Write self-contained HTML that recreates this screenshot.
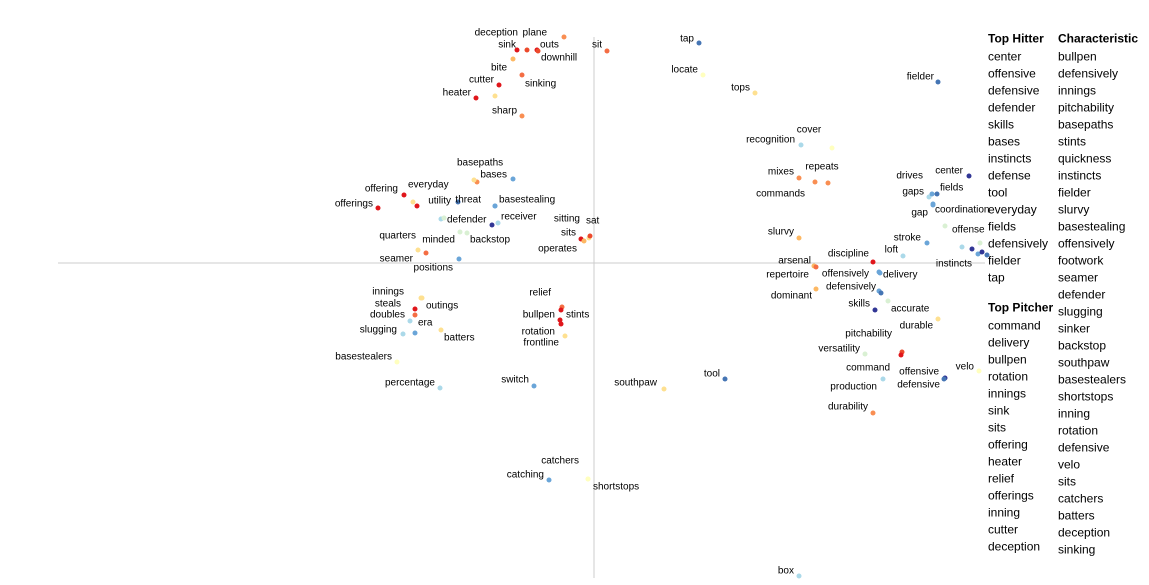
<!DOCTYPE html>
<html><head><meta charset="utf-8"><style>
html,body{margin:0;padding:0;background:#fff;}
svg{display:block;font-family:"Liberation Sans",Arial,sans-serif;}
.lbl{font-size:10px;fill:#000;}
.leg{font-size:12px;fill:#000;}
.legh{font-size:12px;font-weight:bold;fill:#000;}
</style></head><body>
<svg id="chart" width="1149" height="585" viewBox="0 0 1149 585">
<line x1="594" y1="37" x2="594" y2="578" stroke="#ddd" stroke-width="1.5"/>
<line x1="58" y1="263" x2="985" y2="263" stroke="#ccc" stroke-width="1"/>
<g id="points"></g>
<g id="legend"></g>
</svg>
<script>
// terms, x-score, y-score, color category
const terms = ["sink","deception","outs","downhill","plane","bite","sinking","cutter","heater","","sharp","sit","tap","locate","tops","fielder",
"bases","basepaths","","everyday","offering","offerings","","utility","threat","basestealing","","defender","receiver","","minded","backstop","quarters","seamer","positions","sits","operates","sitting","sat",
"cover","recognition","mixes","repeats","commands","slurvy","discipline","arsenal","repertoire","offensively","delivery","loft","stroke","defensively","","dominant","skills","accurate","durable","pitchability","command","versatility","production","offensive","defensive","velo","durability","tool","southpaw","box",
"center","drives","gaps","fields","gap","coordination","offense","","","","instincts","","",
"innings","outings","steals","doubles","era","slugging","batters","","basestealers","percentage",
"relief","bullpen","stints","rotation","frontline","switch","catching","catchers","shortstops"];
const xScores = [-77,-67,-57,-56,-30,-81,-72,-95,-118,-99,-72,13,105,109,161,344,
-81,-117,-120,-181,-190,-216,-177,-136,-99,-99,-153,-150,-96,-102,-134,-127,-176,-168,-135,-13,-10,-5,-4,
238,207,205,221,234,205,279,220,222,285,286,309,333,285,287,222,281,294,344,308,307,271,289,351,350,385,279,131,70,205,
375,335,338,343,339,339,351,368,386,378,384,388,393,
-173,-172,-179,-179,-184,-191,-153,-179,-197,-154,
-32,-33,-34,-33,-29,-60,-45,-6,-6];
const yScores = [213,213,213,212,226,204,188,178,165,167,147,212,220,188,170,181,
84,81,83,61,68,55,57,61,57,57,44,45,40,38,31,30,13,10,4,24,22,25,27,
115,118,85,81,80,25,1,-3,-4,-9,-10,7,20,-28,-30,-26,-47,-38,-56,-89,-92,-91,-116,-115,-116,-108,-150,-116,-126,-313,
87,66,69,69,59,58,37,16,20,14,9,11,8,
-35,-35,-46,-52,-58,-71,-67,-70,-99,-125,
-44,-47,-57,-61,-73,-123,-217,-216,-216];
const cats = [0,1,0,1,3,4,2,0,0,5,3,2,8,6,5,8,
9,3,5,5,0,0,0,8,9,9,7,10,7,11,10,10,5,2,9,0,4,5,1,
6,7,3,3,3,4,0,4,2,9,9,7,9,9,8,4,11,10,5,1,0,10,7,11,8,6,3,8,5,7,
11,7,9,8,9,9,10,7,10,11,9,11,8,
5,5,0,2,7,7,5,9,6,7,
2,0,0,0,5,9,9,6,6];
const palette = ["#e0161b","#ec4a2c","#f46d43","#f98e52","#fdb863","#fee090","#ffffbf","#abd9e9","#4575b4","#6aa5d8","#d9f0d3","#313695"];
const labelOffsets = [[-1,-6,"end"],[-9,-18,"end"],[3,-6,"start"],[3,6,"start"],[-17,-5,"end"],[-22,8,"start"],[3,8,"start"],[-5,-6,"end"],[-5,-6,"end"],[0,0,"start"],[-5,-6,"end"],[-5,-7,"end"],[-5,-5,"end"],[-5,-6,"end"],[-5,-6,"end"],[-4,-6,"end"],
[-6,-5,"end"],[-20,-20,"start"],[0,0,"start"],[-5,-18,"start"],[-6,-7,"end"],[-5,-5,"end"],[0,0,"start"],[-7,-2,"end"],[-14,-7,"end"],[4,-7,"start"],[0,0,"start"],[3,1,"start"],[3,-7,"start"],[0,0,"start"],[-5,7,"end"],[3,6,"start"],[-2,-15,"end"],[-13,5,"end"],[-6,8,"end"],[-5,-7,"end"],[-7,7,"end"],[-9,-20,"end"],[-4,-16,"start"],
[-23,-19,"middle"],[-6,-6,"end"],[-5,-7,"end"],[7,-16,"middle"],[-23,10,"end"],[-5,-7,"end"],[-4,-9,"end"],[-3,-6,"end"],[-7,7,"end"],[-10,1,"end"],[3,1,"start"],[-5,-7,"end"],[-6,-6,"end"],[-3,-5,"end"],[0,0,"start"],[-4,6,"end"],[-5,-7,"end"],[3,7,"start"],[-5,6,"end"],[-10,-19,"end"],[-11,12,"end"],[-5,-6,"end"],[-6,7,"end"],[-6,-7,"end"],[-4,5,"end"],[-5,-5,"end"],[-5,-7,"end"],[-5,-6,"end"],[-7,-7,"end"],[-5,-6,"end"],
[-6,-6,"end"],[-6,-22,"end"],[-8,-3,"end"],[3,-7,"start"],[-5,8,"end"],[2,4,"start"],[7,3,"start"],[0,0,"start"],[0,0,"start"],[0,0,"start"],[-6,9,"end"],[0,0,"start"],[0,0,"start"],
[-17,-7,"end"],[4,7,"start"],[-14,-6,"end"],[-10,-1,"end"],[8,1,"start"],[-6,-5,"end"],[3,7,"start"],[0,0,"start"],[-5,-6,"end"],[-5,-6,"end"],
[-11,-15,"end"],[-6,4,"end"],[6,-6,"start"],[-6,7,"end"],[-6,6,"end"],[-5,-7,"end"],[-5,-6,"end"],[-9,-19,"end"],[5,7,"start"]];

const hitters = ["center","offensive","defensive","defender","skills","bases","instincts","defense","tool","everyday","fields","defensively","fielder","tap"];
const pitchers = ["command","delivery","bullpen","rotation","innings","sink","sits","offering","heater","relief","offerings","inning","cutter","deception"];
const characteristic = ["bullpen","defensively","innings","pitchability","basepaths","stints","quickness","instincts","fielder","slurvy","basestealing","offensively","footwork","seamer","defender","slugging","sinker","backstop","southpaw","basestealers","shortstops","inning","rotation","defensive","velo","sits","catchers","batters","deception","sinking"];

const NS = "http://www.w3.org/2000/svg";
function xAxis(v){ return 594 + v; }
function yAxis(v){ return 263 - v; }

const g = document.getElementById("points");
for (let i = 0; i < xScores.length; i++) {
  const cx = xAxis(xScores[i]), cy = yAxis(yScores[i]);
  const c = document.createElementNS(NS, "circle");
  c.setAttribute("cx", cx); c.setAttribute("cy", cy); c.setAttribute("r", 2.5);
  c.setAttribute("fill", palette[cats[i]]);
  
  
  g.appendChild(c);
  if (terms[i]) {
    const o = labelOffsets[i];
    const t = document.createElementNS(NS, "text");
    t.setAttribute("x", cx + o[0]); t.setAttribute("y", cy + o[1] + 1);
    t.setAttribute("text-anchor", o[2]); t.setAttribute("dominant-baseline", "middle");
    t.setAttribute("class", "lbl");
    t.textContent = terms[i];
    
    
    g.appendChild(t);
  }
}
const lg = document.getElementById("legend");
function addText(x, y, s, cls, name) {
  const t = document.createElementNS(NS, "text");
  t.setAttribute("x", x); t.setAttribute("y", y + 1.5);
  t.setAttribute("dominant-baseline", "middle");
  t.setAttribute("class", cls);
  t.textContent = s;
  
  
  lg.appendChild(t);
}
addText(988, 38, "Top Hitter", "legh", "top-hitter-heading");
hitters.forEach((s, i) => addText(988, 56 + i * 17, s, "leg", "top-hitter-term"));
addText(988, 307, "Top Pitcher", "legh", "top-pitcher-heading");
pitchers.forEach((s, i) => addText(988, 325 + i * 17, s, "leg", "top-pitcher-term"));
addText(1058, 38, "Characteristic", "legh", "characteristic-heading");
characteristic.forEach((s, i) => addText(1058, 56 + i * 17, s, "leg", "characteristic-term"));
</script>
</body></html>
